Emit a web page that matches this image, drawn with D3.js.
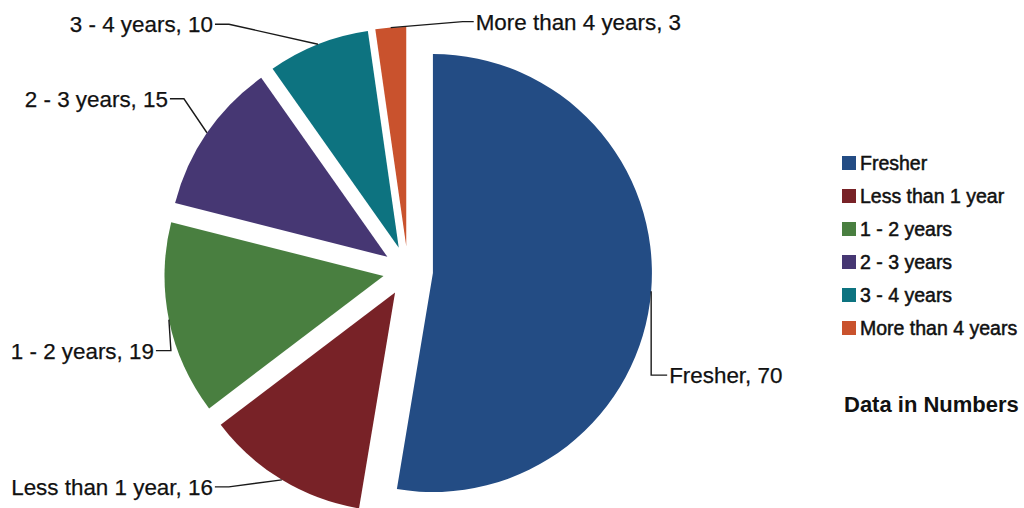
<!DOCTYPE html>
<html>
<head>
<meta charset="utf-8">
<script src="https://cdn.jsdelivr.net/npm/d3@7"></script>
<style>
  body { margin: 0; background: #fff; }
  svg { display: block; font-family: "Liberation Sans", Arial, sans-serif; }
</style>
</head>
<body>
<svg id="chart" width="1024" height="508"></svg>
<script>
const categories = ["Fresher", "Less than 1 year", "1 - 2 years", "2 - 3 years", "3 - 4 years", "More than 4 years"]
const counts = [70, 16, 19, 15, 10, 3]
const colors = ["#234C84", "#782227", "#497F40", "#463773", "#0D7380", "#C9522D"]

// leader line: offset of the elbow from the slice edge, then the short horizontal bit
const leaders = [
  {elbow: [0, 84], tail: 16},
  {elbow: [-53, 7], tail: -14},
  {elbow: [2, 31], tail: -15},
  {elbow: [-23, -34], tail: -14},
  {elbow: [-89, -20], tail: -14},
  {elbow: [72, -6], tail: 11}
]

const width = 1024, height = 508
const cx = 408, cy = 271
const radius = 219
const explode = 25

const svg = d3.select("#chart")

const data = categories.map((c, i) => ({label: c, value: counts[i], color: colors[i]}))

const pie = d3.pie().value(d => d.value).sort(null)
const arc = d3.arc().innerRadius(0).outerRadius(radius)

const arcs = pie(data)

const g = svg.append("g").attr("transform", `translate(${cx},${cy})`)

const mid = d => (d.startAngle + d.endAngle) / 2

g.selectAll("path.slice")
  .data(arcs)
  .join("path")
  .attr("class", "slice")
  .attr("d", arc)
  .attr("fill", d => d.data.color)
  .attr("transform", d => {
    const a = mid(d)
    return `translate(${explode * Math.sin(a)},${-explode * Math.cos(a)})`
  })

// labels with leader lines
arcs.forEach((d, i) => {
  const a = mid(d)
  const r = radius + explode
  const p0 = [r * Math.sin(a), -r * Math.cos(a)]
  const lay = leaders[i]
  const p1 = [p0[0] + lay.elbow[0], p0[1] + lay.elbow[1]]
  const p2 = [p1[0] + lay.tail, p1[1]]

  g.append("path")
    .attr("d", d3.line()([p0, p1, p2]))
    .attr("fill", "none")
    .attr("stroke", "#1a1a1a")
    .attr("stroke-width", 1.4)

  const right = lay.tail > 0
  g.append("text")
    .attr("x", p2[0] + (right ? 2 : -2))
    .attr("y", p2[1] + 8)
    .attr("text-anchor", right ? "start" : "end")
    .attr("font-size", 22.4)
    .attr("fill", "#111")
    .attr("stroke", "#111")
    .attr("stroke-width", 0.25)
    .text(`${d.data.label}, ${d.data.value}`)
})

// legend
const legend = svg.append("g").attr("transform", "translate(842,156)")
const rowH = 33

legend.selectAll("rect")
  .data(data)
  .join("rect")
  .attr("x", 0)
  .attr("y", (d, i) => i * rowH)
  .attr("width", 14)
  .attr("height", 14)
  .attr("fill", d => d.color)

legend.selectAll("text")
  .data(data)
  .join("text")
  .attr("x", 18)
  .attr("y", (d, i) => i * rowH + 14)
  .attr("font-size", 19.5)
  .attr("fill", "#111")
  .attr("stroke", "#111")
  .attr("stroke-width", 0.5)
  .text(d => d.label)

svg.append("text")
  .attr("x", 844)
  .attr("y", 412)
  .attr("font-size", 22)
  .attr("font-weight", "bold")
  .attr("fill", "#111")
  .text("Data in Numbers")
</script>
</body>
</html>
